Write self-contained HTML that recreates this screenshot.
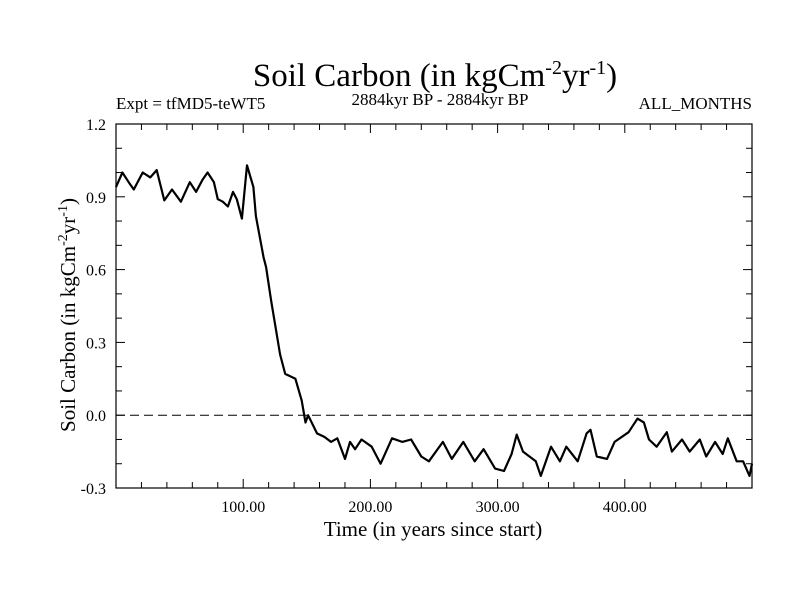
<!DOCTYPE html>
<html><head><meta charset="utf-8"><style>
html,body{margin:0;padding:0;background:#fff;}
svg{display:block;font-family:"Liberation Serif",serif;}
</style></head><body>
<svg id="chart" width="800" height="600" viewBox="0 0 800 600">
<text x="435" y="86" font-size="33" text-anchor="middle">Soil Carbon (in kgCm<tspan dy="-12" font-size="20">-2</tspan><tspan dy="12">yr</tspan><tspan dy="-12" font-size="20">-1</tspan><tspan dy="12">)</tspan></text>
<text x="116" y="109" font-size="17">Expt = tfMD5-teWT5</text>
<text x="440" y="105" font-size="17" text-anchor="middle">2884kyr BP - 2884kyr BP</text>
<text x="752" y="109" font-size="17" text-anchor="end">ALL_MONTHS</text>
<g id="axes"></g>
<g id="series"></g>
<text x="433" y="536" font-size="21" text-anchor="middle">Time (in years since start)</text>
<text transform="translate(75,315) rotate(-90)" font-size="21" text-anchor="middle">Soil Carbon (in kgCm<tspan dy="-8" font-size="14">-2</tspan><tspan dy="8">yr</tspan><tspan dy="-8" font-size="14">-1</tspan><tspan dy="8">)</tspan></text>
</svg>
<script>
const years = [0,5,10,14,21,27,32,38,44,51,58,63,68,72,77,80,84,88,92,95,99,103,108,110,116,118,122,129,133,141,146,149,151,158,164,169,174,180,184,188,193,201,208,217,225,232,240,246,257,264,273,282,289,298,305,311,315,320,330,334,342,349,354,363,370,373,378,386,392,403,410,415,419,425,433,437,445,451,459,464,471,477,481,488,493,498,500];
const values = [0.94,1.0,0.96,0.93,1.0,0.98,1.01,0.885,0.93,0.88,0.96,0.92,0.97,1.0,0.96,0.89,0.88,0.86,0.92,0.89,0.81,1.03,0.94,0.82,0.65,0.61,0.47,0.25,0.17,0.15,0.06,-0.03,0.0,-0.075,-0.09,-0.11,-0.095,-0.18,-0.11,-0.14,-0.10,-0.13,-0.20,-0.095,-0.11,-0.10,-0.17,-0.19,-0.11,-0.18,-0.11,-0.19,-0.14,-0.22,-0.23,-0.16,-0.08,-0.15,-0.19,-0.25,-0.13,-0.19,-0.13,-0.19,-0.075,-0.06,-0.17,-0.18,-0.11,-0.07,-0.014,-0.03,-0.10,-0.13,-0.07,-0.15,-0.10,-0.15,-0.10,-0.17,-0.11,-0.16,-0.095,-0.19,-0.19,-0.25,-0.20];
const yTicks = [-0.3,0.0,0.3,0.6,0.9,1.2];
const yTickLabels = ["-0.3","0.0","0.3","0.6","0.9","1.2"];
const xTicks = [100,200,300,400];
const xTickLabels = ["100.00","200.00","300.00","400.00"];
const NS='http://www.w3.org/2000/svg';
const L=116,R=752,T=124,B=488,X0=0,X1=500,Y0=-0.3,Y1=1.2;
const xs=v=>L+(v-X0)/(X1-X0)*(R-L);
const ys=v=>B-(v-Y0)/(Y1-Y0)*(B-T);
function mk(tag,attrs,parent){const e=document.createElementNS(NS,tag);for(const k in attrs)e.setAttribute(k,attrs[k]);parent.appendChild(e);return e;}
const ax=document.getElementById('axes');
const frame=mk('rect',{x:L,y:T,width:R-L,height:B-T,fill:'none',stroke:'#000','stroke-width':1.2},ax);


for(let v=-0.3;v<=1.2001;v+=0.1){const y=ys(v);const major=Math.abs(Math.round(v*10)%3)===0;const len=major?9:6;
 mk('line',{x1:L,y1:y,x2:L+len,y2:y,stroke:'#000'},ax);mk('line',{x1:R,y1:y,x2:R-len,y2:y,stroke:'#000'},ax);}
for(let v=20;v<500;v+=20){const x=xs(v);const major=v%100===0;const len=major?9:6;
 mk('line',{x1:x,y1:B,x2:x,y2:B-len,stroke:'#000'},ax);mk('line',{x1:x,y1:T,x2:x,y2:T+len,stroke:'#000'},ax);}
yTicks.forEach((v,i)=>{const t=mk('text',{x:L-10,y:ys(v)+6,'font-size':16,'text-anchor':'end'},ax);t.textContent=yTickLabels[i];
 
 });
xTicks.forEach((v,i)=>{const t=mk('text',{x:xs(v),y:B+24,'font-size':16,'text-anchor':'middle'},ax);t.textContent=xTickLabels[i];
 
 });
const zl=mk('line',{x1:L,y1:ys(0),x2:R,y2:ys(0),stroke:'#000','stroke-dasharray':'9,5'},ax);


const sg=document.getElementById('series');
const d=years.map((yr,i)=>(i?'L':'M')+xs(yr).toFixed(1)+','+ys(values[i]).toFixed(1)).join(' ');
const p=mk('path',{d:d,fill:'none',stroke:'#000','stroke-width':2.2,'stroke-linejoin':'round'},sg);


</script>
</body></html>
